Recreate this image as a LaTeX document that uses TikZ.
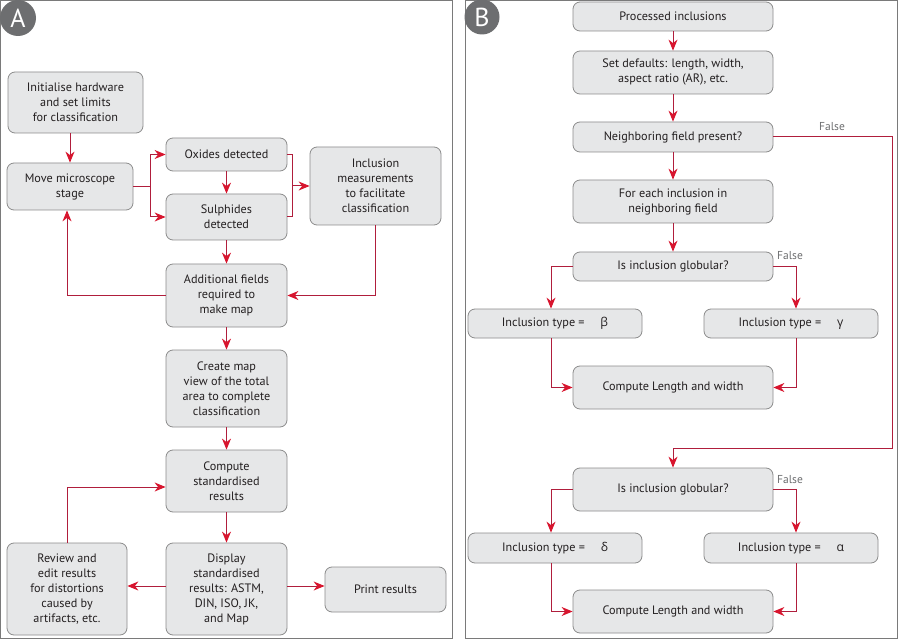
\documentclass[tikz,border=0pt]{standalone}
\usepackage{fontspec}
\setmainfont{PT Sans}
\newfontfamily\grk{Open Sans}
\usetikzlibrary{arrows.meta,calc}
\definecolor{boxfill}{HTML}{E6E7E8}
\definecolor{boxborder}{HTML}{8C8C8C}
\definecolor{textc}{HTML}{231F20}
\definecolor{linec}{HTML}{B01E3C}
\definecolor{arrowc}{HTML}{D8152E}
\definecolor{framec}{HTML}{7A7A7A}
\definecolor{circc}{HTML}{6D6E70}
\definecolor{lblc}{HTML}{6D6E70}
\tikzset{
  box/.style={draw=boxborder, fill=boxfill, rounded corners=7pt, line width=0.8pt,
    align=center, inner sep=0pt, text=textc, font=\fontsize{12.2}{15}\selectfont},
  conn/.style={draw=linec, line width=1pt, -{Stealth[length=11pt,width=9pt,inset=3.5pt,color=arrowc]}},
  plain/.style={draw=linec, line width=1pt},
  frame/.style={draw=framec, line width=1pt},
  circ/.style={circle, fill=circc, minimum size=36pt, inner sep=0pt, text=white,
    font=\fontsize{26}{26}\selectfont},
  lbl/.style={text=lblc, font=\fontsize{11.5}{12}\selectfont, inner sep=0pt}
}
\begin{document}
\begin{tikzpicture}[x=1pt,y=-1pt]
\useasboundingbox (0,0) rectangle (900,639);
\fill[white] (0,0) rectangle (900,639);
% frames
\draw[frame] (0.5,0.5) rectangle (452,638);
\draw[frame] (465,0.5) rectangle (897,638);
\node[circ] (la) at (18,18) {A};
\node[circ, minimum size=35pt] (lb) at (482,17) {B};

% ---------- Panel A ----------
\node[box, minimum width=135pt, minimum height=61pt] (init) at (75.5,102.5)
  {Initialise hardware\\and set limits\\for classification};
\node[box, minimum width=126pt, minimum height=47pt] (move) at (70,186.5)
  {Move microscope\\stage};
\node[box, minimum width=121pt, minimum height=33pt] (ox) at (226.5,154.5)
  {Oxides detected};
\node[box, minimum width=121pt, minimum height=46pt] (sul) at (226.5,217)
  {Sulphides\\detected};
\node[box, minimum width=131pt, minimum height=78pt] (incl) at (375.5,186)
  {Inclusion\\measurements\\to facilitate\\classification};
\node[box, minimum width=121pt, minimum height=63pt] (add) at (226.5,295.5)
  {Additional fields\\required to\\make map};
\node[box, minimum width=121pt, minimum height=77pt] (cmap) at (226.5,388.5)
  {Create map\\view of the total\\area to complete\\classification};
\node[box, minimum width=121pt, minimum height=62pt] (comp) at (226.5,481)
  {Compute\\standardised\\results};
\node[box, minimum width=121pt, minimum height=92pt] (disp) at (226.5,589)
  {Display\\standardised\\results: ASTM,\\DIN, ISO, JK,\\and Map};
\node[box, minimum width=120pt, minimum height=92pt] (rev) at (67,589)
  {Review and\\edit results\\for distortions\\caused by\\artifacts, etc.};
\node[box, minimum width=121pt, minimum height=45pt] (print) at (385.5,589.5)
  {Print results};

\draw[conn] (move.north |- init.south) -- (move.north);
\draw[conn] (move.east) -- ++(17,0) |- (ox.west);
\draw[conn] (move.east) -- ++(17,0) |- (sul.west);
\draw[conn] (ox) -- (sul);
\coordinate (br) at ($(ox.east)+(5,0)$);
\draw[plain] (ox.east) -- (br) |- (sul.east);
\draw[conn] (br |- incl.west) -- (incl.west);
\draw[conn] (incl.south) |- (add.east);
\draw[conn] (add.west) -| ([xshift=-3pt]move.south);
\draw[conn] (sul) -- (add);
\draw[conn] (add) -- (cmap);
\draw[conn] (cmap) -- (comp);
\draw[conn] (comp) -- (disp);
\draw[conn] ([yshift=3pt]disp.west) -- ([yshift=3pt]rev.east);
\draw[conn] ([yshift=3pt]disp.east) -- ([yshift=3.5pt]print.west);
\draw[conn] (rev.north) |- ([yshift=-6pt]comp.west);

% ---------- Panel B ----------
\node[box, minimum width=200pt, minimum height=29pt] (proc) at (673,16.5)
  {Processed inclusions};
\node[box, minimum width=200pt, minimum height=43pt] (setd) at (673,72.5)
  {Set defaults: length, width,\\aspect ratio (AR), etc.};
\node[box, minimum width=200pt, minimum height=30pt] (neigh) at (673,137)
  {Neighboring field present?};
\node[box, minimum width=200pt, minimum height=43pt] (fore) at (673,201.5)
  {For each inclusion in\\neighboring field};
\node[box, minimum width=200pt, minimum height=29pt] (glob1) at (673,266.5)
  {Is inclusion globular?};
\node[box, minimum width=174pt, minimum height=29pt] (beta) at (555,323.5)
  {Inclusion type =\hspace{1.3em}{\grk β}};
\node[box, minimum width=174pt, minimum height=29pt] (gamma) at (791,323.5)
  {Inclusion type =\hspace{1.3em}{\grk γ}};
\node[box, minimum width=200pt, minimum height=43pt] (comp1) at (673,387.5)
  {Compute Length and width};
\node[box, minimum width=200pt, minimum height=43pt] (glob2) at (673,489.5)
  {Is inclusion globular?};
\node[box, minimum width=174pt, minimum height=30pt] (delta) at (555,548)
  {Inclusion type =\hspace{1.3em}{\grk δ}};
\node[box, minimum width=174pt, minimum height=30pt] (alpha) at (791,548)
  {Inclusion type =\hspace{1.3em}{\grk α}};
\node[box, minimum width=200pt, minimum height=43pt] (comp2) at (673,611.5)
  {Compute Length and width};

\draw[conn] (proc) -- (setd);
\draw[conn] (setd) -- (neigh);
\draw[conn] (neigh) -- (fore);
\draw[conn] (fore) -- (glob1);
\coordinate (fr) at (892,448);
\draw[conn] (neigh.east) -| (fr) -| (glob2.north);
\node[lbl] (f1) at (832,127) {False};

\draw[conn] (glob1.west) -| ([xshift=-4pt]beta.north);
\draw[conn] (glob1.east) -| ([xshift=5pt]gamma.north);
\node[lbl] (f2) at (790,256) {False};
\draw[conn] ([xshift=-4pt]beta.south) |- (comp1.west);
\draw[conn] ([xshift=5pt]gamma.south) |- (comp1.east);

\draw[conn] (glob2.west) -| ([xshift=-4pt]delta.north);
\draw[conn] (glob2.east) -| ([xshift=5pt]alpha.north);
\node[lbl] (f3) at (790,480) {False};
\draw[conn] ([xshift=-4pt]delta.south) |- (comp2.west);
\draw[conn] ([xshift=5pt]alpha.south) |- (comp2.east);
\end{tikzpicture}
\end{document}
